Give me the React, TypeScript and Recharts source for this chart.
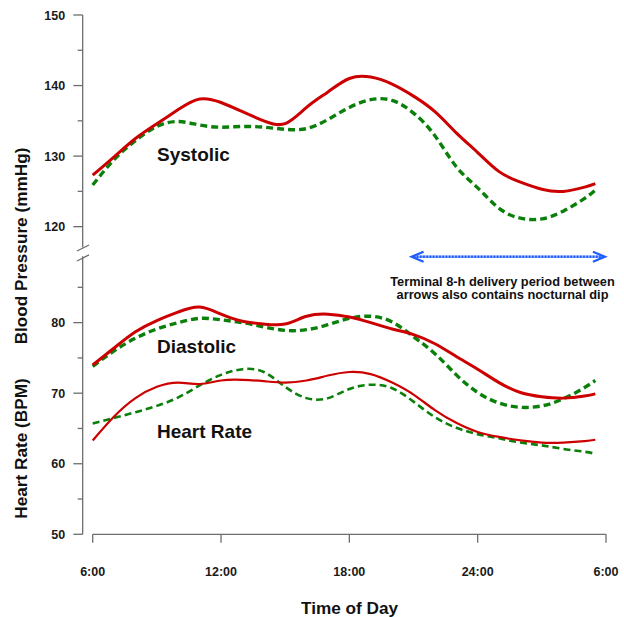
import React from "react";
import { LineChart, Line, XAxis, YAxis, ReferenceLine } from "recharts";

// ---- data (hours since midnight; 24+ = next day) ----
const hours = [6, 7, 8, 9, 10, 11, 12, 13, 14, 15, 16, 17, 18, 19, 20, 21, 22, 23, 24, 25, 26, 27, 28, 29, 29.5];

const systolicRed = [127.3, 129.9, 132.5, 134.6, 136.6, 138.1, 137.6, 136.3, 135.0, 134.6, 136.9, 139.1, 141.0, 141.2, 140.2, 138.5, 136.3, 133.3, 130.5, 127.8, 126.3, 125.3, 125.0, 125.6, 126.1];
const systolicGreen = [125.9, 129.5, 132.2, 134.2, 134.9, 134.4, 134.1, 134.2, 134.1, 133.8, 133.9, 135.2, 136.9, 138.0, 137.9, 136.1, 132.9, 128.5, 125.5, 122.6, 121.2, 121.1, 122.2, 124.0, 125.2];
const diastolicRed = [74.0, 76.4, 78.7, 80.3, 81.5, 82.2, 81.2, 80.2, 79.8, 79.8, 80.9, 81.2, 80.8, 80.0, 79.1, 78.3, 77.0, 75.2, 73.4, 71.5, 70.1, 69.5, 69.3, 69.6, 69.9];
const diastolicGreen = [73.8, 76.0, 77.8, 79.1, 80.0, 80.6, 80.4, 80.0, 79.4, 78.9, 79.0, 79.7, 80.6, 80.9, 80.1, 78.0, 75.6, 72.6, 70.1, 68.6, 68.0, 68.2, 69.2, 70.8, 71.8];
const heartRed = [63.3, 66.7, 69.3, 70.9, 71.5, 71.3, 71.8, 71.9, 71.7, 71.5, 71.8, 72.5, 73.0, 72.7, 71.5, 69.8, 67.6, 65.8, 64.5, 63.8, 63.3, 63.0, 63.0, 63.2, 63.4];
const heartGreen = [65.7, 66.5, 67.3, 68.2, 69.4, 71.1, 72.6, 73.4, 73.0, 70.9, 69.3, 69.3, 70.6, 71.2, 70.7, 68.8, 66.6, 65.1, 64.2, 63.6, 63.0, 62.6, 62.1, 61.7, 61.4];

const xTicks = [6, 12, 18, 24, 30];
const xTickLabels = ["6:00", "12:00", "18:00", "24:00", "6:00"];
const lowerTicks = [50, 55, 60, 65, 70, 75, 80, 85];
const upperTicks = [120, 125, 130, 135, 140, 145, 150];

// upper (systolic) panel is shifted down to sit above the axis break
const BREAK_SHIFT = 26.4;
const Y_DOMAIN: [number, number] = [50, 150 - BREAK_SHIFT];

const arrowStart = 20.91;
const arrowEnd = 29.95;
const arrowLevel = 89.34;

const FONT = '"Liberation Sans", Arial, Helvetica, sans-serif';
const RED = "#cc0000";
const GREEN = "#0a800a";
const AXIS = "#6e6e6e";
const Y_AXIS_X = 5.532;

const chartData = hours.map((h, i) => ({
  h,
  sysR: systolicRed[i] - BREAK_SHIFT,
  sysG: systolicGreen[i] - BREAK_SHIFT,
  diaR: diastolicRed[i],
  diaG: diastolicGreen[i],
  hrR: heartRed[i],
  hrG: heartGreen[i],
}));

const yTicks = [...lowerTicks, ...upperTicks.map((v) => v - BREAK_SHIFT)];
const toReal = (v: number) => Math.round(v > 88 ? v + BREAK_SHIFT : v);

const YTick = (props: any) => {
  const { x, y, payload } = props;
  const real = toReal(payload.value);
  const major = real % 10 === 0;
  const ax = x - 10;
  return (
    <g>
      <line x1={ax} x2={ax - (major ? 9.4 : 5)} y1={y} y2={y} stroke={AXIS} strokeWidth={1.3} />
      {major && (
        <text x={ax - 17.5} y={y + 4.5} textAnchor="end" fontFamily={FONT} fontWeight="bold" fontSize={12.5} fill="#1a1a1a">
          {real}
        </text>
      )}
    </g>
  );
};

const ArrowShape = (props: any) => {
  const { x1, y1, x2, y2 } = props;
  const hx = 12;
  const hy = 5;
  return (
    <g>
      <line x1={x1 + 2} y1={y1} x2={x2 - 2} y2={y2} stroke="#7fa8ff" strokeWidth={2.4} />
      <line x1={x1 + 2} y1={y1} x2={x2 - 2} y2={y2} stroke="#1f5bff" strokeWidth={2.4} strokeDasharray="1.6 1.6" />
      <polyline points={`${x1 + hx},${y1 - hy} ${x1},${y1} ${x1 + hx},${y1 + hy}`} fill="none" stroke="#1f5bff" strokeWidth={2.2} />
      <polyline points={`${x2 - hx},${y2 - hy} ${x2},${y2} ${x2 - hx},${y2 + hy}`} fill="none" stroke="#1f5bff" strokeWidth={2.2} />
    </g>
  );
};

export default function App() {
  const W = 624;
  const H = 617;
  return (
    <div style={{ position: "absolute", left: 0, top: 0, width: W, height: H, background: "#fff" }}>
      <LineChart
        width={W}
        height={H}
        data={chartData}
        margin={{ top: 15, right: 18, left: 32.7, bottom: 42.7 }}
      >
        <XAxis
          dataKey="h"
          type="number"
          domain={[6, 30]}
          ticks={xTicks}
          interval={0}
          tickFormatter={(v: number) => xTickLabels[xTicks.indexOf(v)]}
          height={40}
          axisLine={{ stroke: AXIS, strokeWidth: 1.3 }}
          tickLine={{ stroke: AXIS, strokeWidth: 1.3 }}
          tickSize={8.5}
          tickMargin={24.7}
          tick={{ fill: "#1a1a1a", fontSize: 12.5, fontWeight: "bold", fontFamily: FONT }}
        />
        <YAxis
          type="number"
          domain={Y_DOMAIN}
          allowDataOverflow
          ticks={yTicks}
          interval={0}
          width={60}
          axisLine={false}
          tickLine={false}
          tickSize={0}
          tickMargin={0}
          tick={<YTick />}
        />
        {/* y axis line with break */}
        <ReferenceLine ifOverflow="visible" segment={[{ x: Y_AXIS_X, y: 50 }, { x: Y_AXIS_X, y: 89.4 }]} stroke={AXIS} strokeWidth={1.3} />
        <ReferenceLine ifOverflow="visible" segment={[{ x: Y_AXIS_X, y: 90.7 }, { x: Y_AXIS_X, y: 150 - BREAK_SHIFT }]} stroke={AXIS} strokeWidth={1.3} />
        <ReferenceLine ifOverflow="visible" segment={[{ x: 5.266, y: 90.15 }, { x: 5.827, y: 91.0 }]} stroke={AXIS} strokeWidth={1.3} />
        <ReferenceLine ifOverflow="visible" segment={[{ x: 5.266, y: 88.74 }, { x: 5.827, y: 89.6 }]} stroke={AXIS} strokeWidth={1.3} />
        {/* delivery period arrow */}
        <ReferenceLine
          ifOverflow="visible"
          segment={[{ x: arrowStart, y: arrowLevel }, { x: arrowEnd, y: arrowLevel }]}
          shape={<ArrowShape />}
        />

        <Line type="natural" dataKey="sysG" stroke={GREEN} strokeWidth={3.4} strokeDasharray="7 4" dot={false} isAnimationActive={false} />
        <Line type="natural" dataKey="sysR" stroke={RED} strokeWidth={3} dot={false} isAnimationActive={false} />
        <Line type="natural" dataKey="diaG" stroke={GREEN} strokeWidth={3.4} strokeDasharray="7 4" dot={false} isAnimationActive={false} />
        <Line type="natural" dataKey="diaR" stroke={RED} strokeWidth={3} dot={false} isAnimationActive={false} />
        <Line type="natural" dataKey="hrG" stroke={GREEN} strokeWidth={2.6} strokeDasharray="7 4" dot={false} isAnimationActive={false} />
        <Line type="natural" dataKey="hrR" stroke={RED} strokeWidth={2.2} dot={false} isAnimationActive={false} />
      </LineChart>

      <svg width={W} height={H} style={{ position: "absolute", left: 0, top: 0, pointerEvents: "none" }}>
        <g fontFamily={FONT} fontWeight="bold" fill="#111">
          <text x={27} y={246} fontSize={17.2} textAnchor="middle" transform="rotate(-90 27 246)">
            Blood Pressure (mmHg)
          </text>
          <text x={27} y={448.5} fontSize={17.2} textAnchor="middle" transform="rotate(-90 27 448.5)">
            Heart Rate (BPM)
          </text>
          <text x={349.5} y={614} fontSize={17.2} textAnchor="middle">
            Time of Day
          </text>
          <text x={157} y={160.5} fontSize={19}>Systolic</text>
          <text x={157} y={352.5} fontSize={19}>Diastolic</text>
          <text x={157} y={438} fontSize={19}>Heart Rate</text>
          <text x={502.5} y={285.7} fontSize={12.8} textAnchor="middle">
            Terminal 8-h delivery period between
          </text>
          <text x={502.5} y={299.3} fontSize={12.8} textAnchor="middle">
            arrows also contains nocturnal dip
          </text>
        </g>
      </svg>
    </div>
  );
}
